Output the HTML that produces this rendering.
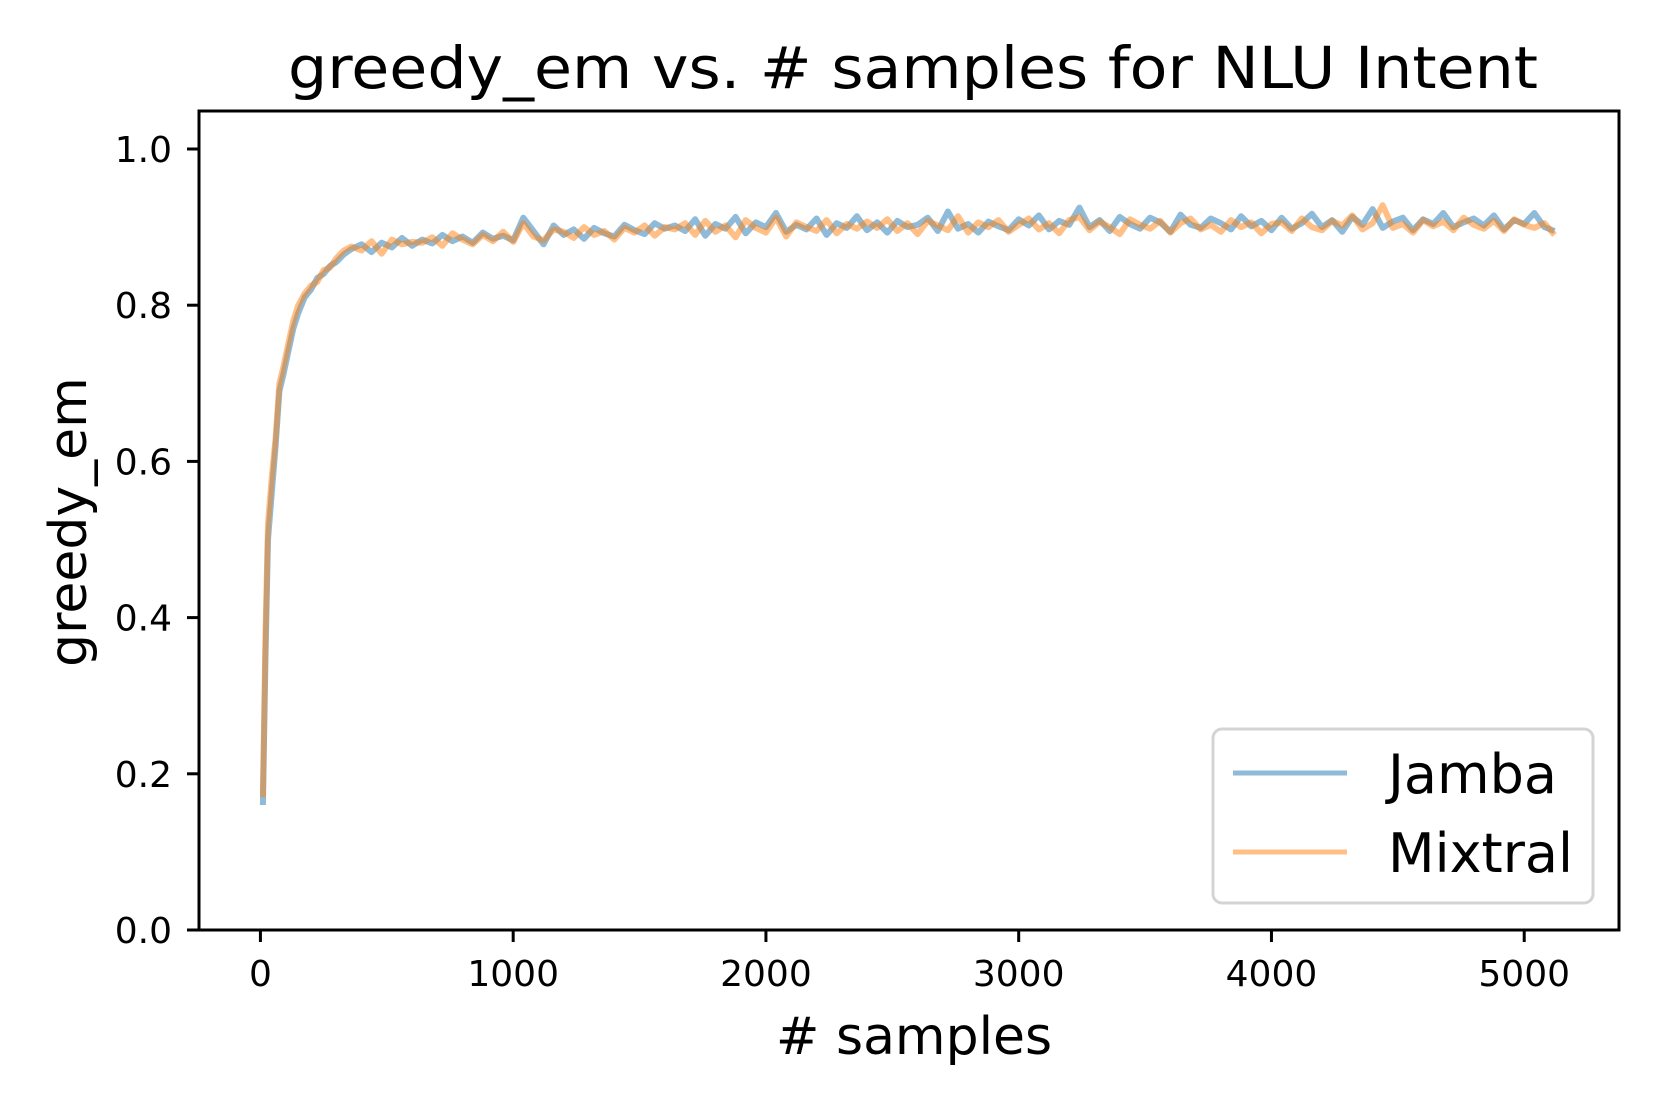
<!DOCTYPE html>
<html><head><meta charset="utf-8"><style>
html,body{margin:0;padding:0;background:#fff;}
svg{display:block;font-family:"DejaVu Sans","Liberation Sans",sans-serif;}
</style></head><body>
<svg id="chart" width="1661" height="1107" viewBox="0 0 1661 1107" xmlns="http://www.w3.org/2000/svg">
<rect x="0" y="0" width="1661" height="1107" fill="#fff"/>
<text x="913" y="88" font-size="58" text-anchor="middle" textLength="1250" lengthAdjust="spacingAndGlyphs">greedy_em vs. # samples for NLU Intent</text>
<g id="series"></g>
<rect x="199" y="111" width="1420" height="819" fill="none" stroke="#000" stroke-width="3"/>
<g id="xticks"></g>
<g id="yticks"></g>
<text x="914" y="1054" font-size="52" text-anchor="middle">#  samples</text>
<text x="0" y="0" font-size="52" text-anchor="middle" transform="translate(86,522) rotate(-90)">greedy_em</text>
<g>
<rect x="1213" y="729" width="380" height="174" rx="9" fill="#fff" fill-opacity="0.8" stroke="#d4d4d4" stroke-width="3"/>
<line x1="1233" y1="773" x2="1347" y2="773" stroke="#1f77b4" stroke-opacity="0.5" stroke-width="5"/>
<text x="1388" y="793" font-size="54">Jamba</text>
<line x1="1233" y1="852" x2="1347" y2="852" stroke="#ff7f0e" stroke-opacity="0.5" stroke-width="5"/>
<text x="1388" y="872" font-size="54">Mixtral</text>
</g>
</svg>
<script>
const samples = [10,20,30,45,60,75,90,110,130,150,175,200,225,250,275,300,330,
360,400,440,480,520,560,600,640,680,720,760,800,840,880,920,960,1000,
1040,1080,1120,1160,1200,1240,1280,1320,1360,1400,1440,1480,1520,1560,1600,
1640,1680,1720,1760,1800,1840,1880,1920,1960,2000,2040,2080,2120,2160,2200,2240,2280,2320,2360,2400,
2440,2480,2520,2560,2600,2640,2680,2720,2760,2800,2840,2880,2920,2960,3000,3040,3080,3120,3160,3200,
3240,3280,3320,3360,3400,3440,3480,3520,3560,3600,3640,3680,3720,3760,3800,3840,3880,3920,3960,4000,
4040,4080,4120,4160,4200,4240,4280,4320,4360,4400,4440,4480,4520,4560,4600,4640,4680,4720,4760,4800,
4840,4880,4920,4960,5000,5040,5080,5120];
const jambaValues = [.16,.35,.50,.56,.62,.69,.71,.74,.77,.79,.81,.82,.835,.84,.85,.855,.865,
.872,.878,.868,.880,.874,.886,.876,
.884,.879,.890,.882,.888,.880,.893,.885,.889,.883,
.912,.895,.878,.902,.890,.897,.885,.899,.892,.888,.903,.896,.891,.905,.898,
.902,.895,.910,.889,.904,.898,.913,.892,.906,.900,.918,.894,.903,.897,.911,.890,.905,.899,.914,.896,
.906,.893,.908,.900,.903,.912,.895,.920,.898,.904,.893,.907,.901,.896,.910,.902,.915,.897,.908,.903,
.925,.900,.909,.895,.913,.904,.898,.912,.906,.894,.916,.903,.899,.911,.905,.897,.914,.901,.908,.896,
.912,.898,.905,.917,.900,.909,.894,.913,.903,.923,.899,.907,.912,.896,.910,.904,.918,.900,.906,.911,
.902,.915,.897,.909,.904,.918,.900,.895];
const mixtralValues = [.17,.38,.52,.58,.63,.70,.72,.75,.78,.80,.815,.825,.83,.845,.848,.86,.87,
.875,.870,.882,.866,.884,.878,.881,
.880,.887,.876,.892,.884,.878,.890,.882,.894,.881,
.905,.888,.883,.897,.894,.886,.900,.890,.895,.884,.899,.893,.902,.889,.900,
.897,.905,.890,.908,.894,.902,.887,.909,.899,.893,.912,.888,.906,.900,.895,.909,.892,.904,.898,.907,
.899,.910,.895,.905,.891,.908,.902,.896,.914,.893,.906,.900,.909,.894,.903,.911,.897,.905,.892,.909,
.913,.896,.907,.900,.891,.910,.903,.898,.908,.893,.905,.911,.897,.903,.894,.909,.900,.906,.892,.904,
.906,.895,.911,.900,.896,.908,.902,.915,.897,.905,.928,.899,.904,.893,.909,.901,.907,.896,.912,.903,
.898,.908,.895,.910,.903,.899,.905,.890];
const xTickValues = [0,1000,2000,3000,4000,5000];
const yTickValues = [0.0,0.2,0.4,0.6,0.8,1.0];
const yTickLabels = ["0.0","0.2","0.4","0.6","0.8","1.0"];

const NS = "http://www.w3.org/2000/svg";
const X0 = 199, X1 = 1619, XMIN = -243, XMAX = 5375;
const YB = 930, YT = 149;
function xScale(v){ return X0 + (v - XMIN) / (XMAX - XMIN) * (X1 - X0); }
function yScale(v){ return YB - v * (YB - YT); }

const seriesG = document.getElementById('series');
function drawSeries(vals, color, name){
  const p = document.createElementNS(NS, 'path');
  let d = '';
  for (let i = 0; i < vals.length; i++) {
    d += (i ? 'L' : 'M') + xScale(samples[i]).toFixed(1) + ',' + yScale(vals[i]).toFixed(1);
  }
  p.setAttribute('d', d);
  p.setAttribute('fill', 'none');
  p.setAttribute('stroke', color);
  p.setAttribute('stroke-opacity', '0.5');
  p.setAttribute('stroke-width', '6');
  p.setAttribute('stroke-linejoin', 'round');
  
  
  seriesG.appendChild(p);
}
drawSeries(jambaValues, '#1f77b4', 'jamba-line');
drawSeries(mixtralValues, '#ff7f0e', 'mixtral-line');

const xg = document.getElementById('xticks');
xTickValues.forEach(function(v){
  const x = xScale(v);
  const t = document.createElementNS(NS, 'line');
  t.setAttribute('x1', x); t.setAttribute('x2', x);
  t.setAttribute('y1', YB); t.setAttribute('y2', YB + 12);
  t.setAttribute('stroke', '#000'); t.setAttribute('stroke-width', '3');
  
  
  xg.appendChild(t);
  const l = document.createElementNS(NS, 'text');
  l.setAttribute('x', x); l.setAttribute('y', 986);
  l.setAttribute('font-size', '36'); l.setAttribute('text-anchor', 'middle');
  l.textContent = String(v);
  
  
  xg.appendChild(l);
});
const yg = document.getElementById('yticks');
yTickValues.forEach(function(v, i){
  const y = yScale(v);
  const t = document.createElementNS(NS, 'line');
  t.setAttribute('x1', X0 - 12); t.setAttribute('x2', X0);
  t.setAttribute('y1', y); t.setAttribute('y2', y);
  t.setAttribute('stroke', '#000'); t.setAttribute('stroke-width', '3');
  
  
  yg.appendChild(t);
  const l = document.createElementNS(NS, 'text');
  l.setAttribute('x', 172); l.setAttribute('y', y + 13);
  l.setAttribute('font-size', '36'); l.setAttribute('text-anchor', 'end');
  l.textContent = yTickLabels[i];
  
  
  yg.appendChild(l);
});
</script>
</body></html>
